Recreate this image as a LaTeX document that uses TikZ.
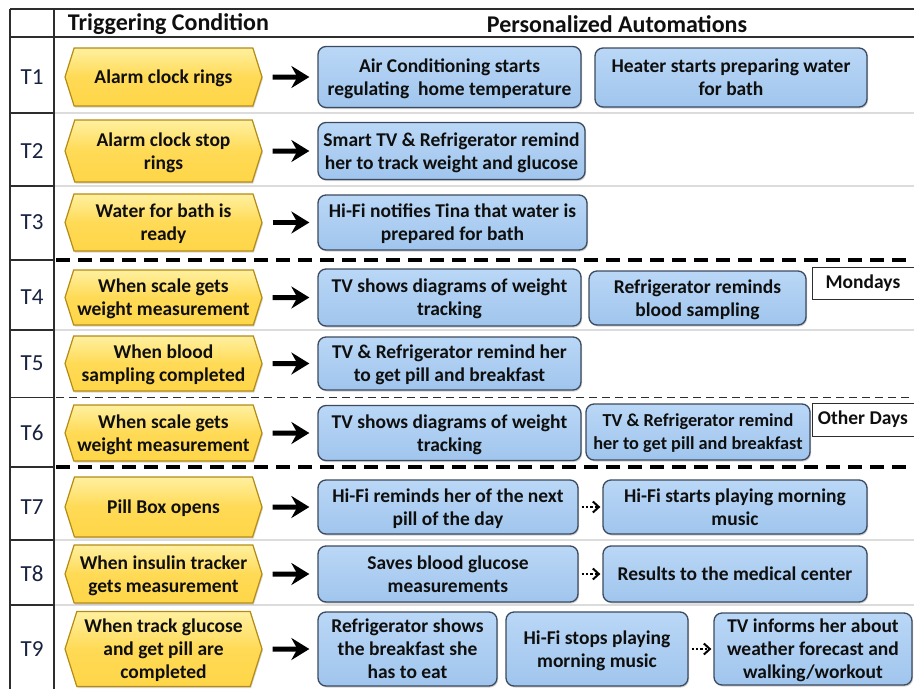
\documentclass[tikz,border=0pt]{standalone}
\usepackage{fontspec}
\setmainfont{Carlito}
\usetikzlibrary{shapes.symbols,shadows,arrows.meta}

\definecolor{gridgray}{RGB}{220,220,220}
\definecolor{rulecol}{RGB}{45,45,45}
\definecolor{hexfill}{RGB}{255,214,72}
\definecolor{hexlight}{RGB}{255,240,160}
\definecolor{hexedge}{RGB}{180,140,20}
\definecolor{boxfill}{RGB}{160,197,237}
\definecolor{boxlight}{RGB}{186,215,246}
\definecolor{boxedge}{RGB}{60,74,95}
\definecolor{labelblue}{RGB}{25,35,65}
\definecolor{ink}{RGB}{15,15,15}

\tikzset{
  boxfont/.style={font=\bfseries\fontsize{19.5}{23}\selectfont, text=ink},
  narrowfont/.style={font=\bfseries\fontsize{18.3}{23}\selectfont},
  trigger/.style={shape=signal, signal to=east and west, signal pointer angle=145,
    minimum width=197pt, inner sep=0pt, text depth=0pt,
    top color=hexlight, bottom color=hexfill, middle color=hexfill!85!hexlight,
    draw=hexedge, line width=1.2pt, align=center, boxfont,
    drop shadow={shadow xshift=1pt, shadow yshift=-1.5pt, opacity=0.3}},
  action/.style={rectangle, rounded corners=8pt, draw=boxedge, line width=1.3pt,
    top color=boxlight, bottom color=boxfill, inner sep=0pt, text depth=0pt,
    align=center, boxfont,
    drop shadow={shadow xshift=1pt, shadow yshift=-1.5pt, opacity=0.35}},
  daytag/.style={rectangle, draw=rulecol, line width=1pt, fill=white, inner sep=0pt,
    font=\bfseries\fontsize{19.5}{23}\selectfont, text=ink},
  rowlabel/.style={font=\fontsize{23}{27}\selectfont, text=labelblue},
  headtext/.style={font=\bfseries\fontsize{24}{28}\selectfont, text=ink},
  thickarrow/.style={-{Stealth[length=18pt,width=22pt,inset=6pt]}, line width=5pt,
    shorten <=10pt, shorten >=8pt},
  dotarrow/.style={dotted, line width=2.4pt, -{Straight Barb[length=6pt,width=11pt,line width=2pt]},
    shorten <=3pt, shorten >=2pt},
  gridline/.style={gridgray, line width=1.6pt},
  frameline/.style={rulecol, line width=1.4pt},
  bigdash/.style={line width=3.2pt, dash pattern=on 14pt off 8pt},
  smalldash/.style={line width=1.6pt, dash pattern=on 8pt off 5pt, rulecol},
}

\begin{document}
\begin{tikzpicture}[x=1pt, y=-1pt]
\useasboundingbox (0,0) rectangle (914,689);
\fill[white] (0,0) rectangle (914,689);

% table grid: light separators across the automation area
\foreach \yy in {113,186,330,540,605}
  \draw[gridline] (54,\yy) -- (914,\yy);
\draw[bigdash] (56,260) -- (914,260);
\draw[bigdash] (56,467) -- (914,467);
\draw[smalldash] (56,397.5) -- (914,397.5);

% frame of the label column and header
\draw[frameline] (10,9) -- (914,9);
\draw[frameline] (10,37) -- (914,37);
\draw[frameline] (10,9) -- (10,689);
\draw[frameline] (54,9) -- (54,689);
\foreach \yy in {113,186,260,330,397.5,467,540,605}
  \draw[frameline] (10,\yy) -- (54,\yy);

% header
\node[headtext] (hcond) at (168.5,24.5) {Triggering Condition};
\node[headtext] (hauto) at (617,24.5) {Personalized Automations};

% row labels
\node[rowlabel] (t1) at (32,77) {T1};
\node[rowlabel] (t2) at (32,151) {T2};
\node[rowlabel] (t3) at (32,222.5) {T3};
\node[rowlabel] (t4) at (32,297.5) {T4};
\node[rowlabel] (t5) at (32,363.5) {T5};
\node[rowlabel] (t6) at (32,433) {T6};
\node[rowlabel] (t7) at (32,507) {T7};
\node[rowlabel] (t8) at (32,574) {T8};
\node[rowlabel] (t9) at (32,649) {T9};

% triggering conditions
\node[trigger, minimum height=58pt] (h1) at (163.5,77) {Alarm clock rings};
\node[trigger, minimum height=62pt] (h2) at (163.5,151) {Alarm clock stop\\rings};
\node[trigger, minimum height=57pt] (h3) at (163.5,222.5) {Water for bath is\\ready};
\node[trigger, minimum height=55pt] (h4) at (163.5,297.5) {When scale gets\\weight measurement};
\node[trigger, minimum height=55pt] (h5) at (163.5,363.5) {When blood\\sampling completed};
\node[trigger, minimum height=56pt] (h6) at (163.5,433) {When scale gets\\weight measurement};
\node[trigger, minimum height=60pt] (h7) at (163.5,507) {Pill Box opens};
\node[trigger, minimum height=58pt] (h8) at (163.5,574) {When insulin tracker\\gets measurement};
\node[trigger, minimum height=75pt] (h9) at (163.5,649) {When track glucose\\and get pill are\\completed};

% automations
\node[action, minimum width=263pt, minimum height=61pt] (a1) at (449.5,77) {Air Conditioning starts\\regulating\ \ home temperature};
\node[action, minimum width=272pt, minimum height=59pt] (b1) at (731,77.5) {Heater starts preparing water\\for bath};

\node[action, minimum width=267pt, minimum height=57pt] (a2) at (451.5,151) {Smart TV \& Refrigerator remind\\her to track weight and glucose};

\node[action, minimum width=269pt, minimum height=55pt] (a3) at (452.5,222.5) {Hi-Fi notifies Tina that water is\\prepared for bath};

\node[action, minimum width=263pt, minimum height=57pt] (a4) at (449.5,297.5) {TV shows diagrams of weight\\tracking};
\node[action, minimum width=217pt, minimum height=54pt] (b4) at (697.5,298) {Refrigerator reminds\\blood sampling};
\node[daytag, minimum width=108pt, minimum height=32pt] (mon) at (866,283) {\hspace*{-6pt}Mondays};

\node[action, minimum width=263pt, minimum height=53pt] (a5) at (449.5,363.5) {TV \& Refrigerator remind her\\to get pill and breakfast};

\node[action, minimum width=263pt, minimum height=55pt] (a6) at (449.5,433) {TV shows diagrams of weight\\tracking};
\node[action, narrowfont, minimum width=224pt, minimum height=56pt] (b6) at (698,432) {TV \& Refrigerator remind\\her to get pill and breakfast};
\node[daytag, minimum width=110pt, minimum height=33pt] (oth) at (867,419.5) {\hspace*{-8pt}Other Days};

\node[action, minimum width=260pt, minimum height=54pt] (a7) at (448,507) {Hi-Fi reminds her of the next\\pill of the day};
\node[action, minimum width=264pt, minimum height=54pt] (b7) at (735,507) {Hi-Fi starts playing morning\\music};

\node[action, minimum width=260pt, minimum height=56pt] (a8) at (448,574) {Saves blood glucose\\measurements};
\node[action, minimum width=264pt, minimum height=56pt] (b8) at (735,574) {Results to the medical center};

\node[action, minimum width=179pt, minimum height=74pt] (a9) at (407.5,649) {Refrigerator shows\\the breakfast she\\has to eat};
\node[action, minimum width=182pt, minimum height=74pt] (b9) at (597,649) {Hi-Fi stops playing\\morning music};
\node[action, minimum width=198pt, minimum height=72pt] (c9) at (813,649) {TV informs her about\\weather forecast and\\walking/workout};

% condition-to-automation arrows
\foreach \i in {1,...,9}
  \draw[thickarrow] (h\i) -- (a\i);

% chained automations
\draw[dotarrow] (a7) -- (b7);
\draw[dotarrow] (a8) -- (b8);
\draw[dotarrow] (b9) -- (c9);
\end{tikzpicture}
\end{document}
